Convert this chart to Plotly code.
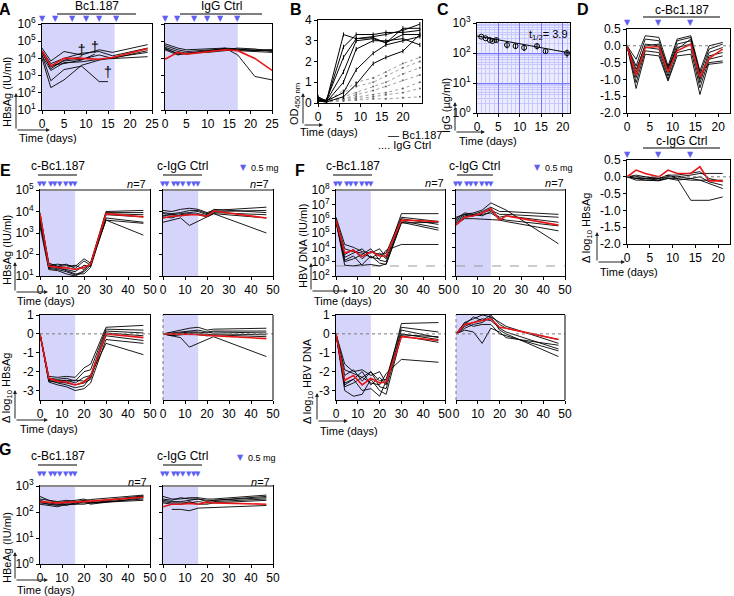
import plotly.graph_objects as go

W, H = 734, 596
FONT = "Liberation Sans, Arial, sans-serif"

# ---------------- DATA ----------------
# Panel A (log10 HBsAg, IU/ml)
A_bc_days = [0, 2, 5, 9, 13, 16, 24]
A_bc_lines = [
    [4.6, 3.85, 4.4, 4.2, 4.5, 4.35, 4.8],
    [4.45, 3.7, 4.0, 4.3, 4.4, 4.15, 4.6],
    [4.3, 3.5, 3.85, 3.95, 4.2, 4.0, 4.45],
    [4.15, 3.3, 3.75, 3.8, 3.95, 4.0, 4.1],
    [4.0, 2.3, 2.75, 3.6, 3.9, 4.05, 4.35],
]
A_bc_mean = [4.43, 3.55, 4.0, 4.0, 3.95, 4.05, 4.57]
A_bc_dead_days = [[0, 2, 5, 9, 13, 15], [0, 2, 5, 9], [0, 2, 5, 9, 12]]
A_bc_dead_vals = [[4.2, 2.7, 3.35, 3.55, 2.65, 2.65], [4.35, 3.4, 3.9, 4.1], [4.4, 3.6, 3.7, 3.9, 4.25]]
A_dagger_days = [15, 9, 12]
A_dagger_vals = [3.1, 4.4, 4.55]
A_ig_days = [0, 3, 5, 10, 14, 17, 21, 25]
A_ig_lines = [
    [4.85, 4.6, 4.5, 4.55, 4.6, 4.55, 4.45, 4.45],
    [4.75, 4.5, 4.4, 4.5, 4.55, 4.5, 4.5, 4.5],
    [4.65, 4.4, 4.3, 4.45, 4.5, 4.6, 4.55, 4.4],
    [4.55, 4.3, 4.25, 4.4, 4.55, 4.45, 4.4, 4.35],
    [4.5, 4.2, 4.3, 4.35, 4.45, 4.5, 4.45, 4.5],
    [4.6, 4.25, 4.3, 4.4, 4.6, 4.2, 2.95, 2.75],
]
A_ig_mean = [3.95, 4.35, 4.25, 4.4, 4.5, 4.45, 4.0, 3.3]
A_dose_days = [0, 3, 7, 10, 13, 17]

# Panel B (OD450)
B_days = [0, 2, 6, 9, 13, 16, 20, 24]
B_bc = [
    [0.15, 0.1, 3.3, 3.1, 3.2, 3.3, 3.5, 3.8],
    [0.2, 0.1, 2.7, 3.3, 3.3, 3.4, 3.4, 3.5],
    [0.1, 0.15, 2.2, 3.1, 3.15, 2.9, 3.6, 3.6],
    [0.25, 0.1, 1.5, 3.0, 3.1, 2.9, 3.3, 3.3],
    [0.1, 0.05, 1.0, 2.6, 3.0, 3.0, 3.1, 2.8],
    [0.3, 0.1, 0.5, 1.6, 2.4, 2.8, 3.0, 3.2],
    [0.1, 0.05, 0.3, 0.9, 1.9, 2.2, 2.5, 3.3],
]
B_ig = [
    [0.2, 0.1, 0.6, 1.0, 1.2, 1.5, 1.9, 2.2],
    [0.1, 0.1, 0.5, 0.8, 1.0, 1.3, 1.7, 2.0],
    [0.2, 0.1, 0.3, 0.5, 0.8, 1.0, 1.4, 1.7],
    [0.1, 0.05, 0.2, 0.4, 0.6, 0.8, 1.1, 1.35],
    [0.1, 0.1, 0.2, 0.3, 0.4, 0.5, 0.7, 1.0],
    [0.1, 0.1, 0.15, 0.2, 0.3, 0.4, 0.5, 0.7],
    [0.1, 0.05, 0.1, 0.15, 0.2, 0.2, 0.25, 0.3],
]

# Panel C (IgG, ug/ml)
C_days = [1, 2, 3, 3.6, 4.5, 7, 9, 11, 14, 16, 21]
C_vals = [350, 310, 270, 250, 270, 185, 170, 150, 170, 115, 100]
C_err = [20, 15, 15, 20, 40, 45, 35, 35, 40, 15, 30]
C_fit_days = [0, 21.7]
C_fit_vals = [370, 100]

# Panel D (delta log10 HBsAg)
D_days = [0, 2, 4, 7, 9, 11, 14, 16, 18, 21]
D_bc = [
    [0, -0.4, 0.3, 0.25, -0.6, 0.2, 0.3, -0.75, 0.0, 0.1],
    [0, -0.6, 0.2, 0.15, -0.7, 0.15, 0.25, -0.85, -0.1, 0.05],
    [0, -0.8, 0.05, 0.0, -0.8, 0.05, 0.15, -1.0, -0.2, -0.05],
    [0, -0.95, -0.05, -0.1, -0.9, -0.05, 0.05, -1.1, -0.3, -0.2],
    [0, -1.1, -0.15, -0.2, -1.0, -0.2, -0.1, -1.25, -0.4, -0.3],
    [0, -1.27, -0.25, -0.3, -1.05, -0.3, -0.25, -1.45, -0.5, -0.45],
    [0, -0.7, 0.0, 0.05, -0.65, -0.1, 0.2, -0.8, -0.55, -0.5],
]
D_bc_mean = [0, -0.87, -0.05, -0.02, -0.78, -0.15, 0.05, -0.93, -0.37, -0.1]
D_ig = [
    [0, 0.05, 0.0, -0.05, 0.0, 0.0, 0.05, 0.1, 0.1, 0.1],
    [0, -0.05, -0.1, -0.1, -0.05, -0.1, -0.05, -0.1, -0.1, -0.1],
    [0, -0.1, -0.1, -0.12, -0.05, -0.05, -0.1, -0.1, -0.2, -0.35],
    [0, -0.05, -0.05, -0.1, 0.0, 0.0, -0.05, 0.0, -0.15, -0.25],
    [0, 0.0, -0.05, -0.05, 0.05, -0.05, -0.7, -0.7, -0.7, -0.6],
    [0, 0.0, 0.0, -0.05, 0.05, 0.05, 0.1, 0.15, -0.05, -0.15],
]
D_ig_mean = [0, 0.2, 0.1, 0.0, 0.2, 0.1, 0.1, 0.3, -0.12, -0.12]
D_dose_days = [0, 7, 14]

# Panel E (HBsAg)
E_days = [0, 4, 8, 12, 16, 20, 23, 30, 47]
E_bc_log = [
    [3.95, 1.5, 1.55, 1.5, 1.45, 1.8, 1.6, 4.0, 4.05],
    [3.85, 1.6, 1.45, 1.55, 1.35, 1.7, 1.5, 3.95, 3.95],
    [3.75, 1.4, 1.35, 1.3, 1.2, 1.5, 1.45, 3.9, 3.85],
    [3.6, 1.35, 1.3, 1.2, 1.05, 1.25, 1.6, 3.85, 3.75],
    [3.5, 1.45, 1.4, 1.25, 1.1, 1.1, 1.4, 3.7, 3.5],
    [3.3, 1.3, 1.25, 1.1, 1.0, 1.2, 1.5, 3.6, 3.45],
    [3.6, 1.5, 1.45, 1.4, 1.5, 1.3, 1.6, 3.6, 2.9],
]
E_bc_log_mean = [3.9, 1.45, 1.4, 1.38, 1.3, 1.4, 1.55, 3.9, 3.75]
E_ig_days = [0, 4, 8, 12, 16, 20, 23, 47]
E_ig_log = [
    [4.05, 4.0, 4.1, 4.15, 4.1, 3.95, 4.05, 4.2],
    [3.95, 3.9, 3.95, 4.05, 4.05, 3.9, 4.0, 4.05],
    [3.9, 3.85, 3.9, 3.95, 4.0, 3.85, 4.1, 3.95],
    [3.8, 3.85, 3.8, 3.85, 3.9, 3.8, 3.95, 3.85],
    [3.75, 3.7, 3.85, 3.9, 3.85, 3.75, 3.9, 3.7],
    [3.5, 3.6, 3.7, 3.35, 3.55, 3.75, 3.9, 3.0],
]
E_ig_log_mean = [3.7, 3.78, 3.8, 3.85, 3.85, 3.78, 4.02, 3.7]
E_bc_delta = [
    [0, -2.25, -2.3, -2.25, -2.3, -1.8, -1.6, 0.35, 0.45],
    [0, -2.35, -2.4, -2.35, -2.5, -2.0, -1.9, 0.25, 0.2],
    [0, -2.4, -2.5, -2.45, -2.6, -2.3, -2.2, 0.15, 0.05],
    [0, -2.5, -2.55, -2.6, -2.7, -2.6, -2.4, 0.05, -0.1],
    [0, -2.45, -2.6, -2.7, -2.85, -2.75, -2.3, -0.1, -0.35],
    [0, -2.55, -2.7, -2.8, -3.0, -2.9, -2.6, -0.3, -0.5],
    [0, -2.4, -2.45, -2.5, -2.45, -2.5, -2.2, -0.5, -1.1],
]
E_bc_delta_mean = [0, -2.35, -2.5, -2.55, -2.7, -2.55, -2.25, 0.0, -0.2]
E_ig_delta = [
    [0, 0.1, 0.2, 0.3, 0.35, 0.2, 0.25, 0.3],
    [0, 0.05, 0.1, 0.15, 0.2, 0.1, 0.15, 0.15],
    [0, 0.0, 0.05, 0.1, 0.1, 0.05, 0.1, 0.05],
    [0, -0.05, 0.0, 0.05, 0.05, -0.05, 0.0, -0.05],
    [0, -0.1, -0.05, 0.0, -0.05, -0.1, -0.05, -0.15],
    [0, -0.1, -0.2, -0.7, -0.5, -0.3, -0.15, -1.2],
]
E_ig_delta_mean = [0, 0.0, 0.0, 0.0, -0.03, -0.08, -0.1, -0.25]

# Panel F (HBV DNA)
F_days = [0, 4, 8, 12, 16, 20, 23, 30, 47]
F_bc_log = [
    [6.1, 4.2, 4.0, 3.7, 3.6, 3.9, 3.3, 6.35, 6.35],
    [6.0, 3.5, 3.85, 3.2, 3.7, 3.5, 3.6, 6.1, 5.8],
    [5.95, 3.3, 3.6, 3.9, 3.25, 3.6, 3.2, 6.0, 5.6],
    [5.85, 3.0, 3.2, 3.5, 3.9, 3.1, 3.0, 5.85, 5.35],
    [5.8, 2.75, 2.7, 2.8, 3.4, 2.9, 2.8, 5.75, 5.2],
    [5.75, 3.1, 3.4, 2.75, 2.8, 2.7, 2.85, 5.7, 5.75],
    [5.9, 3.9, 3.7, 3.6, 3.3, 3.2, 3.8, 4.2, 4.2],
]
F_bc_log_mean = [5.9, 3.6, 3.8, 3.35, 3.7, 3.4, 3.4, 5.9, 5.8]
F_ig_days = [0, 4, 8, 12, 16, 20, 23, 47]
F_ig_log = [
    [6.1, 6.3, 6.4, 6.6, 7.1, 6.8, 6.6, 4.25],
    [6.0, 6.4, 6.3, 6.5, 6.8, 6.5, 6.5, 6.3],
    [5.9, 6.3, 6.2, 6.4, 6.6, 6.3, 6.3, 6.1],
    [5.8, 6.2, 6.3, 6.2, 6.5, 6.1, 6.2, 5.75],
    [5.7, 6.1, 6.2, 6.3, 6.4, 6.0, 5.9, 5.5],
    [5.6, 6.0, 6.0, 5.95, 5.95, 5.9, 5.8, 5.15],
]
F_ig_log_mean = [5.55, 6.1, 6.2, 6.4, 6.7, 5.9, 6.2, 5.55]
F_bc_delta = [
    [0, -1.6, -2.0, -1.9, -2.2, -2.0, -2.6, 0.55, 0.6],
    [0, -2.2, -1.9, -2.5, -2.0, -2.5, -2.4, 0.35, 0.1],
    [0, -2.6, -2.4, -2.0, -2.7, -2.3, -2.7, 0.2, -0.2],
    [0, -2.8, -2.6, -2.3, -2.0, -2.8, -2.9, 0.0, -0.3],
    [0, -3.0, -3.3, -3.2, -2.4, -3.0, -3.2, -0.1, -0.45],
    [0, -2.7, -2.4, -3.0, -2.9, -3.3, -2.5, -0.05, -0.15],
    [0, -1.9, -2.1, -2.3, -2.6, -2.7, -2.1, -1.35, -1.5],
]
F_bc_delta_mean = [0, -2.45, -2.2, -2.7, -2.35, -2.6, -2.55, -0.15, -0.35]
F_ig_delta = [
    [0, 0.6, 0.8, 1.0, 0.9, 0.6, 0.4, -0.5],
    [0, 0.5, 0.9, 0.7, 1.0, 0.5, 0.3, -0.3],
    [0, 0.4, 0.6, 0.8, 0.7, 0.3, 0.1, -0.8],
    [0, 0.3, 0.5, 0.6, 0.9, 0.2, 0.0, -1.2],
    [0, 0.2, 0.1, -0.5, 0.3, 0.1, -0.2, -0.6],
    [0, 0.6, 0.4, 0.5, 0.5, 0.0, -0.1, -0.9],
]
F_ig_delta_mean = [0, 0.5, 0.6, 0.7, 0.8, 0.35, 0.3, -0.3]
F_lloq = [500, 500]
F_lloq_days = [0, 50]

# Panel G (HBeAg)
G_days = [0, 4, 8, 12, 16, 20, 23, 47]
G_bc_log = [
    [2.6, 2.45, 2.4, 2.45, 2.4, 2.45, 2.48, 2.65],
    [2.5, 2.45, 2.35, 2.4, 2.45, 2.5, 2.4, 2.62],
    [2.45, 2.35, 2.3, 2.35, 2.35, 2.45, 2.35, 2.6],
    [2.4, 2.3, 2.25, 2.3, 2.3, 2.4, 2.3, 2.55],
    [2.35, 2.3, 2.3, 2.25, 2.35, 2.35, 2.35, 2.5],
    [2.3, 2.25, 2.2, 2.3, 2.3, 2.3, 2.35, 2.45],
]
G_bc_log_mean = [2.4, 2.38, 2.35, 2.37, 2.38, 2.4, 2.42, 2.57]
G_ig_log = [
    [2.6, 2.5, 2.5, 2.55, 2.55, 2.5, 2.5, 2.65],
    [2.5, 2.45, 2.55, 2.5, 2.5, 2.45, 2.45, 2.6],
    [2.45, 2.4, 2.4, 2.45, 2.5, 2.4, 2.45, 2.55],
    [2.4, 2.35, 2.35, 2.35, 2.4, 2.35, 2.4, 2.5],
    [2.35, 2.3, 2.3, 2.4, 2.3, 2.3, 2.35, 2.45],
]
G_ig_low_days = [4, 8, 12, 16, 47]
G_ig_low = [2.1, 2.1, 2.05, 2.15, 2.25]
G_ig_log_mean = [2.2, 2.3, 2.3, 2.33, 2.3, 2.38, 2.35, 2.3]

EFG_dose_days = [0, 2, 5, 7, 9, 12, 14, 16]

# ---------------- STYLE ----------------
RED = "rgb(232,22,22)"
SHADE = "rgb(213,213,251)"
TRI = "rgb(96,96,240)"
BLK = "black"

fig = go.Figure()
lay = dict(width=W, height=H, margin=dict(l=0, r=0, t=0, b=0),
           paper_bgcolor="white", plot_bgcolor="rgba(0,0,0,0)", showlegend=False,
           font=dict(family=FONT, size=11, color="black"))
shapes, annos = [], []


def PX(x):
    return x / W


def PY(y):
    return 1 - y / H


count = [0]


def make_axes(x0, x1, ytop, ybot, xr, yr, xticks, yticks=None, yticktext=None,
              ylog=False, ylabels=True, yline=True, tickfs=12):
    count[0] += 1
    i = count[0]
    s = "" if i == 1 else str(i)
    xa = dict(domain=[PX(x0), PX(x1)], range=xr, anchor="y" + s, showline=True,
              linecolor=BLK, linewidth=1, mirror=True, ticks="outside", ticklen=3,
              tickcolor=BLK, showgrid=False, zeroline=False, tickvals=xticks,
              tickfont=dict(size=tickfs, family=FONT), fixedrange=True, automargin=False)
    ya = dict(domain=[PY(ybot), PY(ytop)], range=yr, anchor="x" + s, showline=yline,
              linecolor=BLK, linewidth=1, mirror=yline, ticks="outside" if yline else "",
              ticklen=3, tickcolor=BLK, showgrid=False, zeroline=False,
              tickvals=yticks, ticktext=yticktext, showticklabels=ylabels,
              tickfont=dict(size=tickfs, family=FONT), fixedrange=True, automargin=False)
    if ylog:
        ya["type"] = "log"
    lay["xaxis" + s] = xa
    lay["yaxis" + s] = ya
    return "x" + s, "y" + s, s


def add_line(ax, x, y, color=BLK, width=0.9, dash=None, mode="lines", marker=None):
    fig.add_trace(go.Scatter(x=x, y=y, xaxis=ax[0], yaxis=ax[1], mode=mode,
                             line=dict(color=color, width=width, dash=dash),
                             marker=marker, hoverinfo="skip", cliponaxis=False))


def pow10(v):
    return [10 ** a for a in v]


def shade(ax, x1):
    shapes.append(dict(type="rect", xref=ax[0], yref=ax[1] + " domain", x0=0, x1=x1,
                       y0=0, y1=1, fillcolor=SHADE, line=dict(width=0), layer="below"))


def zero_line(ax):
    shapes.append(dict(type="line", xref=ax[0] + " domain", yref=ax[1], x0=0, x1=1,
                       y0=0, y1=0, line=dict(color="#777", width=1, dash="dot")))


def gray_top(ax):
    shapes.append(dict(type="line", xref=ax[0] + " domain", yref=ax[1] + " domain",
                       x0=0, x1=1, y0=1, y1=1, line=dict(color="#8a8a8a", width=2)))


def dotted_left(ax):
    shapes.append(dict(type="line", xref=ax[0] + " domain", yref=ax[1] + " domain",
                       x0=0, x1=0, y0=0, y1=1, line=dict(color="#777", width=1, dash="dot")))
    shapes.append(dict(type="line", xref=ax[0] + " domain", yref=ax[1] + " domain",
                       x0=1, x1=1, y0=0, y1=1, line=dict(color=BLK, width=1)))


def text(x, y, t, size=11, xanchor="center", bold=False, angle=0, color=BLK):
    if bold:
        t = "<b>" + t + "</b>"
    annos.append(dict(x=PX(x), y=PY(y), xref="paper", yref="paper", text=t,
                      showarrow=False, xanchor=xanchor, yanchor="middle", textangle=angle,
                      font=dict(size=size, color=color, family=FONT)))


def bar(x0, x1, y, label, ylab):
    shapes.append(dict(type="line", xref="paper", yref="paper", x0=PX(x0), x1=PX(x1),
                       y0=PY(y), y1=PY(y), line=dict(color="#555", width=1.3)))
    text((x0 + x1) / 2, ylab, label, size=12)


def doses(ax, days, y, size=7):
    for d in days:
        annos.append(dict(x=d, y=PY(y), xref=ax[0], yref="paper", text="▼",
                          showarrow=False, font=dict(size=size, color=TRI, family="DejaVu Sans"),
                          xanchor="center", yanchor="middle"))


def guide(x0, y0, up, right, ylabel, ylab_cy, ylab_x, time_y, time_x=None):
    annos.append(dict(x=PX(x0), y=PY(y0 - up), xref="paper", yref="paper", ax=0, ay=up,
                      showarrow=True, arrowhead=2, arrowsize=0.8, arrowwidth=1,
                      arrowcolor="#222", text=""))
    annos.append(dict(x=PX(x0 + right), y=PY(y0), xref="paper", yref="paper", ax=-right, ay=0,
                      showarrow=True, arrowhead=2, arrowsize=0.8, arrowwidth=1,
                      arrowcolor="#222", text=""))
    text(ylab_x, ylab_cy, ylabel, size=11, angle=-90)
    text(time_x if time_x is not None else x0 + 1, time_y, "Time (days)", size=11, xanchor="left")


def legend05(x, y):
    annos.append(dict(x=PX(x), y=PY(y), xref="paper", yref="paper", text="▼",
                      showarrow=False, font=dict(size=8, color=TRI, family="DejaVu Sans"),
                      xanchor="center", yanchor="middle"))
    text(x + 6, y + 1, "0.5 mg", size=9, xanchor="left")


def ntext(x, y):
    text(x, y, "<i>n</i>=7", size=11, xanchor="right")


def sup_ticks(lo, hi):
    vals = [10 ** k for k in range(lo, hi + 1)]
    txt = ["10<sup>%d</sup>" % k for k in range(lo, hi + 1)]
    return vals, txt


# ---------------- PANEL A ----------------
yv, yt = sup_ticks(1, 6)
aL = make_axes(42, 152, 24, 110, [0, 25], [1, 6], [0, 5, 10, 15, 20, 25], yv, yt, ylog=True)
aR = make_axes(165, 272, 24, 110, [0, 25], [1, 6], [0, 5, 10, 15, 20, 25], yv, yt, ylog=True,
               ylabels=False)
shade(aL, 16.5)
shade(aR, 17)
for ln in A_bc_lines:
    add_line(aL, A_bc_days, pow10(ln))
for d, v in zip(A_bc_dead_days, A_bc_dead_vals):
    add_line(aL, d, pow10(v))
fig.add_trace(go.Scatter(x=A_dagger_days, y=pow10(A_dagger_vals), xaxis=aL[0], yaxis=aL[1],
                         mode="text", text=["†"] * len(A_dagger_days),
                         textfont=dict(size=14, color=BLK, family=FONT), hoverinfo="skip"))
add_line(aL, A_bc_days, pow10(A_bc_mean), color=RED, width=1.6)
for ln in A_ig_lines:
    add_line(aR, A_ig_days, pow10(ln))
add_line(aR, A_ig_days, pow10(A_ig_mean), color=RED, width=1.6)
doses(aL, A_dose_days, 18, size=8)
doses(aR, A_dose_days, 18, size=8)
bar(57, 136, 14, "Bc1.187", 6)
bar(180, 262, 14, "IgG Ctrl", 6)
text(5, 9, "A", size=16, bold=True, xanchor="center")
guide(16, 130, 37, 34, "HBsAg (IU/ml)", 92, 7, 138, 17)

# ---------------- PANEL B ----------------
aB = make_axes(318, 422, 20, 103, [0, 24.5], [0, 4], [0, 5, 10, 15, 20, 25], [0, 1, 2, 3, 4])
for ln in B_ig:
    add_line(aB, B_days, ln, color="#888", width=0.8, dash="dot", mode="lines+markers",
             marker=dict(size=2, color="#666"))
for ln in B_bc:
    add_line(aB, B_days, ln, color=BLK, width=1, mode="lines+markers",
             marker=dict(size=3, color=BLK, symbol="line-ns", line=dict(width=1, color=BLK)))
text(296, 9, "B", size=16, bold=True)
guide(303, 125, 32, 20, "OD<sub>450 nm</sub>", 104, 295, 132, 298)
text(386, 135, "— Bc1.187", size=11, xanchor="left")
text(376, 145, ".... IgG Ctrl", size=11, xanchor="left")

# ---------------- PANEL C ----------------
aC = make_axes(477, 570, 23, 113, [0, 21.7], [0, 3], [0, 5, 10, 15, 20],
               [1, 10, 100, 1000], ["10<sup>0</sup>", "10<sup>1</sup>", "10<sup>2</sup>", "10<sup>3</sup>"],
               ylog=True)
minor_vals = [m * 10 ** k for k in range(0, 3) for m in range(2, 10)]
lay["xaxis" + aC[2]].update(showgrid=True, gridcolor="rgb(120,120,255)", gridwidth=1, dtick=5,
                            minor=dict(showgrid=True, dtick=1, gridcolor="rgb(200,200,255)",
                                       gridwidth=0.6))
lay["yaxis" + aC[2]].update(showgrid=True, gridcolor="rgb(120,120,255)", gridwidth=1,
                            minor=dict(showgrid=True, tickvals=minor_vals,
                                       gridcolor="rgb(200,200,255)", gridwidth=0.6))
shapes.append(dict(type="rect", xref=aC[0] + " domain", yref=aC[1] + " domain", x0=0, x1=1,
                   y0=0, y1=1, fillcolor="rgb(236,236,255)", line=dict(width=0), layer="below"))
add_line(aC, C_fit_days, C_fit_vals, color=BLK, width=1)
fig.add_trace(go.Scatter(x=C_days, y=C_vals, xaxis=aC[0], yaxis=aC[1], mode="markers",
                         marker=dict(symbol="circle-open", size=5, color=BLK, line=dict(width=1)),
                         error_y=dict(type="data", array=C_err, color=BLK, thickness=1, width=0),
                         hoverinfo="skip"))
text(548, 35, "t<sub>1/2</sub>= 3.9", size=11, xanchor="center")
text(443, 9, "C", size=16, bold=True)
guide(455, 132, 30, 30, "IgG (µg/ml)", 106, 446, 141, 457)

# ---------------- PANEL D ----------------
dyv = [0.5, 0, -0.5, -1.0, -1.5, -2.0]
dyt = ["0.5", "0.0", "-0.5", "-1.0", "-1.5", "-2.0"]
aD1 = make_axes(627, 730, 29, 113, [0, 22.6], [-2.0, 0.5], [0, 5, 10, 15, 20], dyv, dyt)
aD2 = make_axes(627, 730, 160, 244, [0, 22.6], [-2.0, 0.5], [0, 5, 10, 15, 20], dyv, dyt)
zero_line(aD1)
zero_line(aD2)
for ln in D_bc:
    add_line(aD1, D_days, ln)
add_line(aD1, D_days, D_bc_mean, color=RED, width=1.6)
for ln in D_ig:
    add_line(aD2, D_days, ln)
add_line(aD2, D_days, D_ig_mean, color=RED, width=1.6)
doses(aD1, D_dose_days, 22, size=8)
doses(aD2, D_dose_days, 154, size=8)
bar(643, 720, 17, "c-Bc1.187", 10)
bar(643, 720, 148, "c-IgG Ctrl", 141)
text(583, 9, "D", size=16, bold=True)
guide(597, 262, 30, 28, "Δ log<sub>10</sub> HBsAg", 228, 587, 272, 598)

# ---------------- PANEL E ----------------
x50 = [0, 10, 20, 30, 40, 50]
yv, yt = sup_ticks(1, 5)
aE1 = make_axes(40, 150, 190, 276, [0, 50], [1, 5], x50, yv, yt, ylog=True)
aE2 = make_axes(163, 273, 190, 276, [0, 50], [1, 5], x50, yv, yt, ylog=True, ylabels=False)
dv = [1, 0, -1, -2, -3]
aE3 = make_axes(40, 150, 315, 400, [0, 50], [-3.5, 1], x50, dv, [str(v) for v in dv])
aE4 = make_axes(163, 273, 315, 400, [0, 50], [-3.5, 1], x50, dv, [str(v) for v in dv],
                ylabels=False, yline=False)
for a in (aE1, aE2, aE3, aE4):
    shade(a, 16)
gray_top(aE1)
gray_top(aE2)
zero_line(aE3)
zero_line(aE4)
dotted_left(aE4)
for ln in E_bc_log:
    add_line(aE1, E_days, pow10(ln))
add_line(aE1, E_days, pow10(E_bc_log_mean), color=RED, width=1.6)
for ln in E_ig_log:
    add_line(aE2, E_ig_days, pow10(ln))
add_line(aE2, E_ig_days, pow10(E_ig_log_mean), color=RED, width=1.6)
for ln in E_bc_delta:
    add_line(aE3, E_days, ln)
add_line(aE3, E_days, E_bc_delta_mean, color=RED, width=1.6)
for ln in E_ig_delta:
    add_line(aE4, E_ig_days, ln)
add_line(aE4, E_ig_days, E_ig_delta_mean, color=RED, width=1.6)
doses(aE1, EFG_dose_days, 184)
doses(aE2, EFG_dose_days, 184)
bar(38, 77, 175, "c-Bc1.187", 166)
bar(163, 202, 175, "c-IgG Ctrl", 166)
legend05(243, 167)
ntext(148, 184)
ntext(271, 184)
text(5, 170, "E", size=16, bold=True)
guide(15, 292, 30, 33, "HBsAg (IU/ml)", 250, 7, 301, 15)
guide(15, 420, 30, 33, "Δ log<sub>10</sub> HBsAg", 388, 7, 429, 18)

# ---------------- PANEL F ----------------
yv, yt = sup_ticks(2, 8)
aF1 = make_axes(336, 445, 190, 276, [0, 50], [2, 8], x50, yv, yt, ylog=True)
aF2 = make_axes(456, 565, 190, 276, [0, 50], [2, 8], x50, yv, yt, ylog=True, ylabels=False)
aF3 = make_axes(336, 445, 315, 400, [0, 50], [-3.5, 1], x50, dv, [str(v) for v in dv])
aF4 = make_axes(456, 565, 315, 400, [0, 50], [-3.5, 1], x50, dv, [str(v) for v in dv],
                ylabels=False, yline=False)
for a in (aF1, aF2, aF3, aF4):
    shade(a, 16)
gray_top(aF1)
gray_top(aF2)
zero_line(aF3)
zero_line(aF4)
dotted_left(aF4)
add_line(aF1, F_lloq_days, F_lloq, color="#999", width=1, dash="dash")
add_line(aF2, F_lloq_days, F_lloq, color="#999", width=1, dash="dash")
for ln in F_bc_log:
    add_line(aF1, F_days, pow10(ln))
add_line(aF1, F_days, pow10(F_bc_log_mean), color=RED, width=1.6)
for ln in F_ig_log:
    add_line(aF2, F_ig_days, pow10(ln))
add_line(aF2, F_ig_days, pow10(F_ig_log_mean), color=RED, width=1.6)
for ln in F_bc_delta:
    add_line(aF3, F_days, ln)
add_line(aF3, F_days, F_bc_delta_mean, color=RED, width=1.6)
for ln in F_ig_delta:
    add_line(aF4, F_ig_days, ln)
add_line(aF4, F_ig_days, F_ig_delta_mean, color=RED, width=1.6)
doses(aF1, EFG_dose_days, 184)
doses(aF2, EFG_dose_days, 184)
bar(333, 372, 175, "c-Bc1.187", 166)
bar(457, 493, 175, "c-IgG Ctrl", 166)
legend05(537, 167)
ntext(446, 183)
ntext(566, 183)
text(300, 170, "F", size=16, bold=True)
guide(311, 291, 28, 37, "HBV DNA (IU/ml)", 246, 303, 301, 312)
guide(317, 421, 28, 31, "Δ log<sub>10</sub> HBV DNA", 381, 308, 431, 318)

# ---------------- PANEL G ----------------
yv, yt = sup_ticks(0, 3)
aG1 = make_axes(40, 150, 486, 564, [0, 50], [0, 3], x50, yv, yt, ylog=True)
aG2 = make_axes(163, 273, 486, 564, [0, 50], [0, 3], x50, yv, yt, ylog=True, ylabels=False)
shade(aG1, 16)
shade(aG2, 16)
gray_top(aG1)
gray_top(aG2)
for ln in G_bc_log:
    add_line(aG1, G_days, pow10(ln))
add_line(aG1, G_days, pow10(G_bc_log_mean), color=RED, width=1.6)
for ln in G_ig_log:
    add_line(aG2, G_days, pow10(ln))
add_line(aG2, G_ig_low_days, pow10(G_ig_low))
add_line(aG2, G_days, pow10(G_ig_log_mean), color=RED, width=1.6)
doses(aG1, EFG_dose_days, 474)
doses(aG2, EFG_dose_days, 474)
bar(38, 77, 465, "c-Bc1.187", 456)
bar(163, 202, 465, "c-IgG Ctrl", 456)
legend05(240, 457)
ntext(149, 482)
ntext(272, 482)
text(5, 449, "G", size=16, bold=True)
guide(15, 580, 28, 33, "HBeAg (IU/ml)", 548, 7, 590, 15)

lay["shapes"] = shapes
lay["annotations"] = annos
fig.update_layout(**lay)
fig.write_html("out.html", config=dict(displayModeBar=False),
               post_script="document.body.style.margin='0px';document.body.style.overflow='hidden';")
